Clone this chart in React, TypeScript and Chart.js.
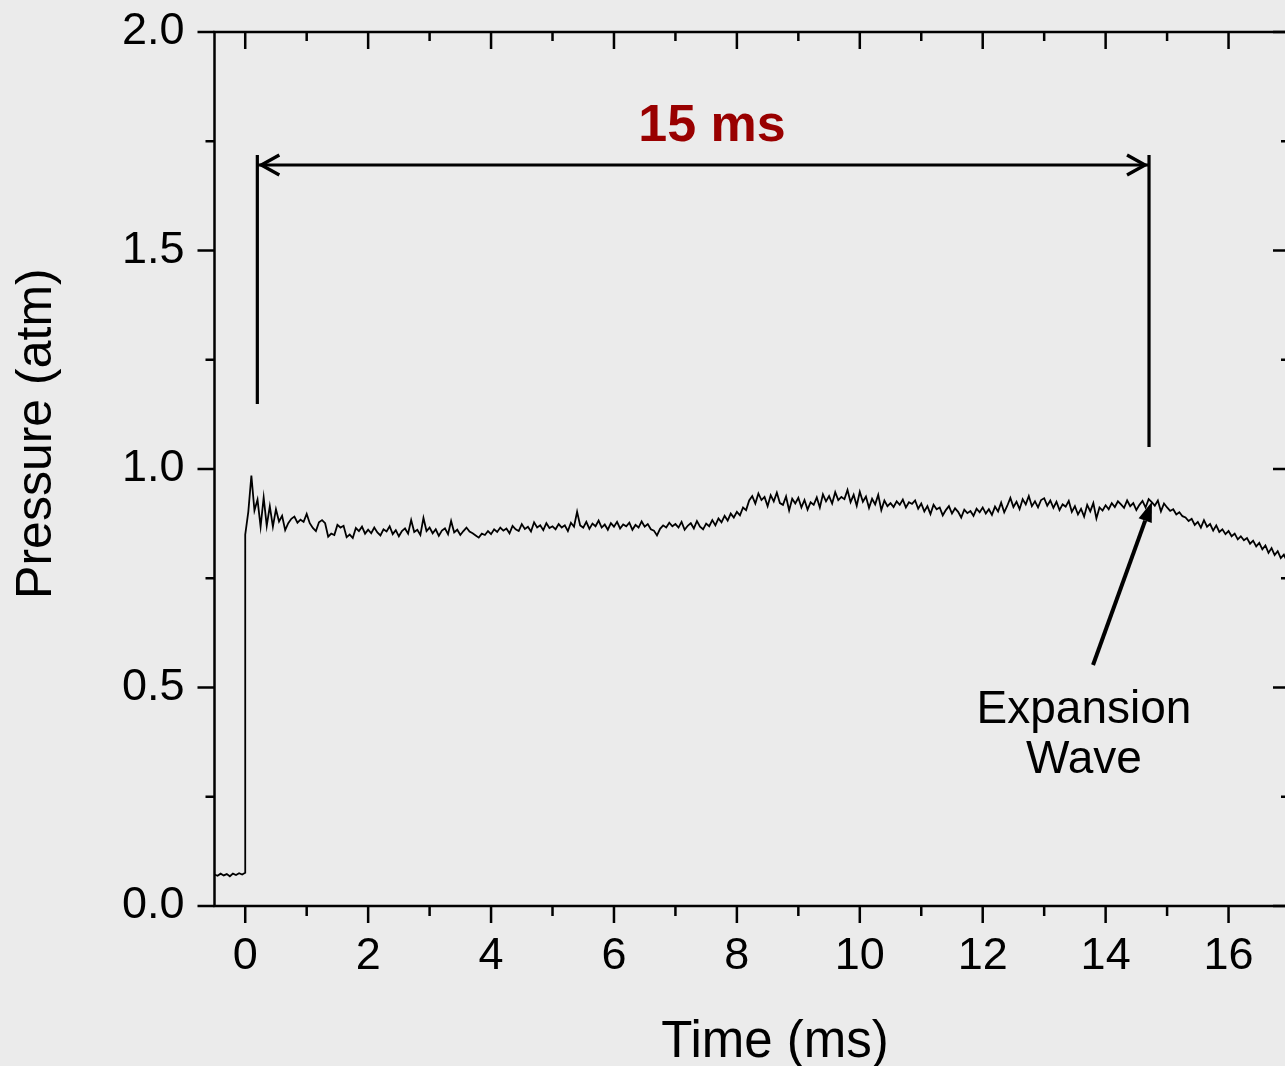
import React, { useEffect, useRef } from 'react';
import { Chart, registerables } from 'chart.js';

Chart.register(...registerables);

// ---------------- data ----------------
// Pre-trigger baseline (time in ms, pressure in atm)
const preTriggerTimeMs = [-0.5, -0.45, -0.4, -0.35, -0.3, -0.25, -0.2, -0.15, -0.1, -0.05, 0.0];
const preTriggerPressureAtm = [0.072, 0.069, 0.074, 0.070, 0.073, 0.068, 0.074, 0.071, 0.075, 0.072, 0.076];

// Recorded trace after the shock arrival, sampled every 0.05 ms from t = 0 ms
const recordStartMs = 0;
const recordStepMs = 0.05;
const recordPressureAtm = [
  0.850, 0.902, 0.985, 0.905, 0.930, 0.868, 0.935, 0.870, 0.915, 0.868, 0.908, 0.880, 0.893, 0.860, 0.876, 0.886, 0.891, 0.877, 0.884, 0.879,
  0.897, 0.876, 0.865, 0.858, 0.878, 0.883, 0.876, 0.845, 0.852, 0.849, 0.872, 0.866, 0.870, 0.844, 0.850, 0.842, 0.865, 0.858, 0.868, 0.852,
  0.861, 0.853, 0.866, 0.855, 0.848, 0.862, 0.857, 0.869, 0.851, 0.860, 0.846, 0.858, 0.864, 0.852, 0.883, 0.856, 0.861, 0.849, 0.888, 0.858,
  0.866, 0.853, 0.862, 0.847, 0.859, 0.864, 0.851, 0.881, 0.855, 0.861, 0.849, 0.858, 0.866, 0.857, 0.853, 0.848, 0.843, 0.852, 0.849, 0.858,
  0.851, 0.862, 0.856, 0.866, 0.859, 0.864, 0.853, 0.870, 0.862, 0.858, 0.874, 0.863, 0.868, 0.857, 0.878, 0.866, 0.871, 0.860, 0.876, 0.865,
  0.869, 0.862, 0.874, 0.866, 0.871, 0.858, 0.877, 0.868, 0.902, 0.871, 0.866, 0.879, 0.863, 0.875, 0.869, 0.882, 0.866, 0.873, 0.861, 0.876,
  0.868, 0.879, 0.864, 0.873, 0.869, 0.877, 0.861, 0.872, 0.866, 0.880, 0.868, 0.874, 0.862, 0.859, 0.848, 0.863, 0.871, 0.866, 0.877, 0.869,
  0.874, 0.866, 0.879, 0.861, 0.870, 0.876, 0.864, 0.881, 0.868, 0.862, 0.875, 0.869, 0.883, 0.871, 0.887, 0.878, 0.893, 0.882, 0.898, 0.889,
  0.902, 0.894, 0.912, 0.906, 0.928, 0.938, 0.921, 0.944, 0.929, 0.936, 0.915, 0.940, 0.926, 0.946, 0.922, 0.918, 0.937, 0.905, 0.932, 0.921,
  0.934, 0.912, 0.929, 0.907, 0.924, 0.918, 0.935, 0.912, 0.942, 0.926, 0.938, 0.921, 0.947, 0.929, 0.936, 0.931, 0.952, 0.924, 0.941, 0.916,
  0.948, 0.925, 0.937, 0.911, 0.932, 0.919, 0.941, 0.906, 0.928, 0.915, 0.922, 0.913, 0.926, 0.918, 0.930, 0.912, 0.924, 0.920, 0.928, 0.909,
  0.921, 0.903, 0.915, 0.897, 0.918, 0.908, 0.912, 0.894, 0.906, 0.915, 0.898, 0.910, 0.902, 0.889, 0.907, 0.899, 0.904, 0.893, 0.909, 0.901,
  0.912, 0.898, 0.908, 0.895, 0.914, 0.903, 0.923, 0.901, 0.916, 0.934, 0.913, 0.925, 0.908, 0.931, 0.919, 0.938, 0.915, 0.926, 0.912, 0.929,
  0.933, 0.916, 0.928, 0.911, 0.925, 0.906, 0.919, 0.914, 0.927, 0.902, 0.915, 0.896, 0.909, 0.891, 0.918, 0.903, 0.922, 0.887, 0.912, 0.905,
  0.917, 0.908, 0.922, 0.913, 0.926, 0.919, 0.911, 0.928, 0.915, 0.922, 0.906, 0.918, 0.927, 0.912, 0.931, 0.924, 0.916, 0.928, 0.903, 0.921,
  0.912, 0.904, 0.908, 0.896, 0.901, 0.892, 0.889, 0.881, 0.886, 0.872, 0.879, 0.866, 0.883, 0.868, 0.874, 0.859, 0.871, 0.856, 0.862, 0.851,
  0.858, 0.846, 0.852, 0.839, 0.846, 0.837, 0.842, 0.829, 0.836, 0.823, 0.831, 0.816, 0.825, 0.808, 0.819, 0.803, 0.812, 0.796, 0.804, 0.789,
  0.794,
];

// Axis ticks
const xLabelValues = [0, 2, 4, 6, 8, 10, 12, 14, 16];
const xTickValues = [0, 1, 2, 3, 4, 5, 6, 7, 8, 9, 10, 11, 12, 13, 14, 15, 16, 17];
const yLabelValues = [0, 0.5, 1, 1.5, 2];
const yTickValues = [0, 0.25, 0.5, 0.75, 1, 1.25, 1.5, 1.75, 2];

const X_MIN = -0.5;
const X_MAX = 17;
const Y_MIN = 0;
const Y_MAX = 2;

// Texts
const xTitle = 'Time (ms)';
const yTitle = 'Pressure (atm)';
const spanLabel = '15 ms';
const waveLabelLines = ['Expansion', 'Wave'];

// Annotation anchors (data coordinates)
const bracketStartMs = 0.197;
const bracketEndMs = 14.706;
const bracketTopAtm = 1.7185;
const bracketArrowAtm = 1.6957;
const bracketLeftBottomAtm = 1.1487;
const bracketRightBottomAtm = 1.0503;
const spanLabelMs = 7.595;
const spanLabelAtm = 1.7506;
const waveArrowFromMs = 13.795;
const waveArrowFromAtm = 0.5515;
const waveArrowToMs = 14.754;
const waveArrowToAtm = 0.925;
const waveLabelMs = 13.648;
const waveLabelAtm = [0.4188, 0.3043];
const xTitleCenterMs = 8.62;
const yTitleCenterAtm = 1.081;

// ---------------- styles ----------------
const BG = '#EBEBEB';
const INK = '#000000';
const ACCENT = '#990000';
const FONT = "'Liberation Sans', Arial, Helvetica, sans-serif";
const CANVAS_W = 1300;
const CANVAS_H = 1066;

const overlayPlugin = {
  id: 'overlay',
  afterDraw(chart: any) {
    const { ctx, chartArea: ca, scales } = chart;
    const xs = scales.x;
    const ys = scales.y;
    const px = (v: number) => xs.getPixelForValue(v);
    const py = (v: number) => ys.getPixelForValue(v);

    ctx.save();
    ctx.strokeStyle = INK;
    ctx.fillStyle = INK;
    ctx.lineCap = 'butt';

    // frame
    ctx.lineWidth = 2.5;
    ctx.strokeRect(ca.left, ca.top, ca.right - ca.left, ca.bottom - ca.top);

    // tick marks
    ctx.beginPath();
    for (const v of xTickValues) {
      const x = px(v);
      const major = xLabelValues.includes(v);
      ctx.moveTo(x, ca.bottom);
      ctx.lineTo(x, ca.bottom + (major ? 17 : 10));
      ctx.moveTo(x, ca.top);
      ctx.lineTo(x, ca.top + (major ? 17 : 9));
    }
    for (const v of yTickValues) {
      const y = py(v);
      const major = yLabelValues.includes(v);
      ctx.moveTo(ca.left, y);
      ctx.lineTo(ca.left - (major ? 17 : 9), y);
      ctx.moveTo(ca.right, y);
      ctx.lineTo(ca.right - (major ? 17 : 9), y);
    }
    ctx.stroke();

    // 15 ms bracket
    const bx0 = px(bracketStartMs);
    const bx1 = px(bracketEndMs);
    const by = py(bracketArrowAtm);
    ctx.lineWidth = 3.2;
    ctx.beginPath();
    ctx.moveTo(bx0, py(bracketTopAtm));
    ctx.lineTo(bx0, py(bracketLeftBottomAtm));
    ctx.moveTo(bx1, py(bracketTopAtm));
    ctx.lineTo(bx1, py(bracketRightBottomAtm));
    ctx.moveTo(bx0, by);
    ctx.lineTo(bx1, by);
    ctx.stroke();
    ctx.lineWidth = 3.4;
    ctx.lineJoin = 'miter';
    ctx.beginPath();
    ctx.moveTo(bx0 + 22, by - 10);
    ctx.lineTo(bx0 + 4, by);
    ctx.lineTo(bx0 + 22, by + 10);
    ctx.moveTo(bx1 - 22, by - 10);
    ctx.lineTo(bx1 - 4, by);
    ctx.lineTo(bx1 - 22, by + 10);
    ctx.stroke();

    ctx.fillStyle = ACCENT;
    ctx.font = `bold 52px ${FONT}`;
    ctx.textAlign = 'center';
    ctx.textBaseline = 'alphabetic';
    ctx.fillText(spanLabel, px(spanLabelMs), py(spanLabelAtm));

    // expansion wave arrow
    const ax0 = px(waveArrowFromMs);
    const ay0 = py(waveArrowFromAtm);
    const ax1 = px(waveArrowToMs);
    const ay1 = py(waveArrowToAtm);
    const ang = Math.atan2(ay1 - ay0, ax1 - ax0);
    const headLen = 20;
    const headHalf = 7;
    const hx = ax1 - headLen * Math.cos(ang);
    const hy = ay1 - headLen * Math.sin(ang);
    ctx.fillStyle = INK;
    ctx.lineWidth = 4;
    ctx.beginPath();
    ctx.moveTo(ax0, ay0);
    ctx.lineTo(hx, hy);
    ctx.stroke();
    ctx.beginPath();
    ctx.moveTo(ax1, ay1);
    ctx.lineTo(hx + headHalf * Math.sin(ang), hy - headHalf * Math.cos(ang));
    ctx.lineTo(hx - headHalf * Math.sin(ang), hy + headHalf * Math.cos(ang));
    ctx.closePath();
    ctx.fill();

    ctx.font = `46px ${FONT}`;
    waveLabelLines.forEach((line, i) => {
      ctx.fillText(line, px(waveLabelMs), py(waveLabelAtm[i]));
    });

    // axis titles
    ctx.font = `51px ${FONT}`;
    ctx.fillText(xTitle, px(xTitleCenterMs), ca.bottom + 150.7);
    ctx.font = `50px ${FONT}`;
    ctx.save();
    ctx.translate(ca.left - 163.5, py(yTitleCenterAtm));
    ctx.rotate(-Math.PI / 2);
    ctx.fillText(yTitle, 0, 0);
    ctx.restore();

    ctx.restore();
  },
};

export default function App() {
  const canvasRef = useRef<HTMLCanvasElement>(null);

  useEffect(() => {
    const canvas = canvasRef.current;
    if (!canvas) return;

    const points = [
      ...preTriggerTimeMs.map((t, i) => ({ x: t, y: preTriggerPressureAtm[i] })),
      ...recordPressureAtm.map((p, i) => ({ x: recordStartMs + i * recordStepMs, y: p })),
    ];

    const chart = new Chart(canvas, {
      type: 'line',
      data: {
        datasets: [
          {
            label: 'Pressure',
            data: points,
            borderColor: INK,
            borderWidth: 1.8,
            pointRadius: 0,
            tension: 0,
            fill: false,
          },
        ],
      },
      options: {
        responsive: false,
        animation: false,
        devicePixelRatio: 1,
        events: [],
        layout: { padding: { left: 0, top: 32, right: CANVAS_W - 1290, bottom: 0 } },
        plugins: {
          legend: { display: false },
          tooltip: { enabled: false },
          title: { display: false },
        },
        scales: {
          x: {
            type: 'linear',
            position: 'bottom',
            min: X_MIN,
            max: X_MAX,
            grid: { display: false, drawTicks: false },
            border: { display: false },
            afterBuildTicks: (scale: any) => {
              scale.ticks = xLabelValues.map((v) => ({ value: v }));
            },
            afterFit: (scale: any) => {
              scale.height = 160;
              scale.paddingLeft = 0;
              scale.paddingRight = 0;
              scale.paddingTop = 0;
              scale.paddingBottom = 0;
            },
            ticks: {
              color: INK,
              font: { family: FONT, size: 45 },
              padding: 24,
              maxRotation: 0,
              minRotation: 0,
              autoSkip: false,
              callback: (v: any) => String(v),
            },
          },
          y: {
            type: 'linear',
            position: 'left',
            min: Y_MIN,
            max: Y_MAX,
            grid: { display: false, drawTicks: false },
            border: { display: false },
            afterBuildTicks: (scale: any) => {
              scale.ticks = yLabelValues.map((v) => ({ value: v }));
            },
            afterFit: (scale: any) => {
              scale.width = 214.5;
              scale.paddingLeft = 0;
              scale.paddingRight = 0;
              scale.paddingTop = 0;
              scale.paddingBottom = 0;
            },
            ticks: {
              color: INK,
              font: { family: FONT, size: 45 },
              padding: 30,
              autoSkip: false,
              callback: (v: any) => Number(v).toFixed(1),
            },
          },
        },
      },
      plugins: [overlayPlugin],
    } as any);

    return () => chart.destroy();
  }, []);

  return (
    <div
      style={{
        position: 'absolute',
        left: 0,
        top: 0,
        width: 1285,
        height: 1066,
        overflow: 'hidden',
        background: BG,
      }}
    >
      <canvas
        ref={canvasRef}
        width={CANVAS_W}
        height={CANVAS_H}
        style={{ display: 'block', width: CANVAS_W, height: CANVAS_H }}
      />
    </div>
  );
}
